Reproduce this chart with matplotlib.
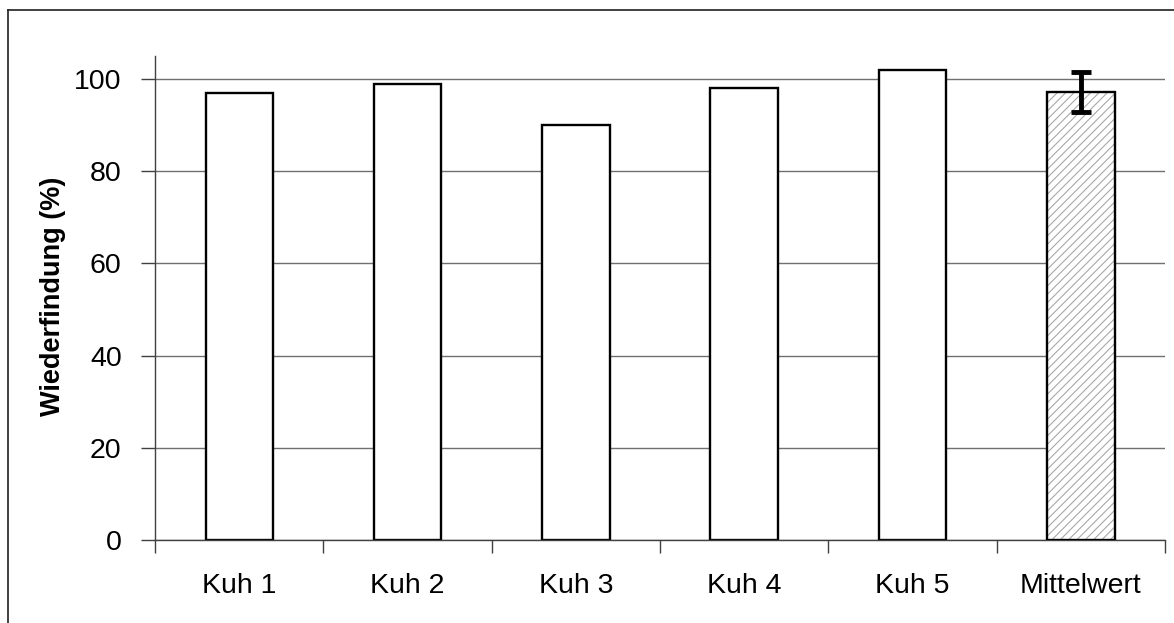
import matplotlib
matplotlib.use("Agg")
import matplotlib.pyplot as plt
from matplotlib.lines import Line2D
import numpy as np

categories = ["Kuh 1", "Kuh 2", "Kuh 3", "Kuh 4", "Kuh 5", "Mittelwert"]
recovery = [97, 99, 90, 98, 102, 97.2]
mean_sd = 4.4

plt.rcParams["font.family"] = ["Liberation Sans", "DejaVu Sans"]
plt.rcParams["hatch.linewidth"] = 0.8

W, H = 1174, 623
fig = plt.figure(figsize=(W / 100, H / 100), dpi=100)
ax = fig.add_axes([155 / W, 1 - 540 / H, (1165 - 155) / W, (540 - 56) / H])

x = np.arange(len(categories))
width = 0.4

# gridlines behind bars
ax.set_axisbelow(True)
ax.yaxis.grid(True, color="#707070", linewidth=1.0)

# individual cows: plain white bars
ax.bar(x[:-1], recovery[:-1], width=width, color="white",
       edgecolor="black", linewidth=1.7, zorder=2)
# mean: grey diagonal hatch, then black outline on top
ax.bar(x[-1], recovery[-1], width=width, color="white",
       edgecolor="#a8a8a8", hatch="////", linewidth=0, zorder=2)
ax.bar(x[-1], recovery[-1], width=width, fill=False,
       edgecolor="black", linewidth=1.7, zorder=3)
ax.errorbar(x[-1], recovery[-1], yerr=mean_sd, fmt="none", ecolor="black",
            elinewidth=3.5, capsize=7, capthick=3.5, zorder=4)

ax.set_xlim(-0.5, len(categories) - 0.5)
ax.set_ylim(0, 105)
ax.set_yticks([0, 20, 40, 60, 80, 100])

# category boundaries get tick marks, labels sit centred without marks
ax.set_xticks(np.arange(-0.5, len(categories), 1.0))
ax.set_xticklabels([])
ax.set_xticks(x, minor=True)
ax.set_xticklabels(categories, minor=True)
ax.tick_params(axis="x", which="major", direction="out", length=9,
               width=1, color="#404040")
ax.tick_params(axis="x", which="minor", length=0, pad=24, labelsize=20.5)
ax.tick_params(axis="y", direction="out", length=10, width=1,
               color="#404040", pad=14, labelsize=20.5)

for side in ("top", "right"):
    ax.spines[side].set_visible(False)
for side in ("left", "bottom"):
    ax.spines[side].set_color("#404040")
    ax.spines[side].set_linewidth(1.0)

# y-axis title placed in figure coordinates
fig.text(53 / W, 1 - 296 / H, "Wiederfindung (%)", rotation=90,
         ha="center", va="center", fontsize=19.5, fontweight="bold")

# outer frame around the chart area
fx, fy = 7.5 / W, 1 - 9.5 / H
fig.add_artist(Line2D([fx, fx], [0, fy], transform=fig.transFigure,
                      color="#202020", linewidth=1.2))
fig.add_artist(Line2D([fx, 1], [fy, fy], transform=fig.transFigure,
                      color="#202020", linewidth=1.2))

fig.savefig("out.png", dpi=100)
